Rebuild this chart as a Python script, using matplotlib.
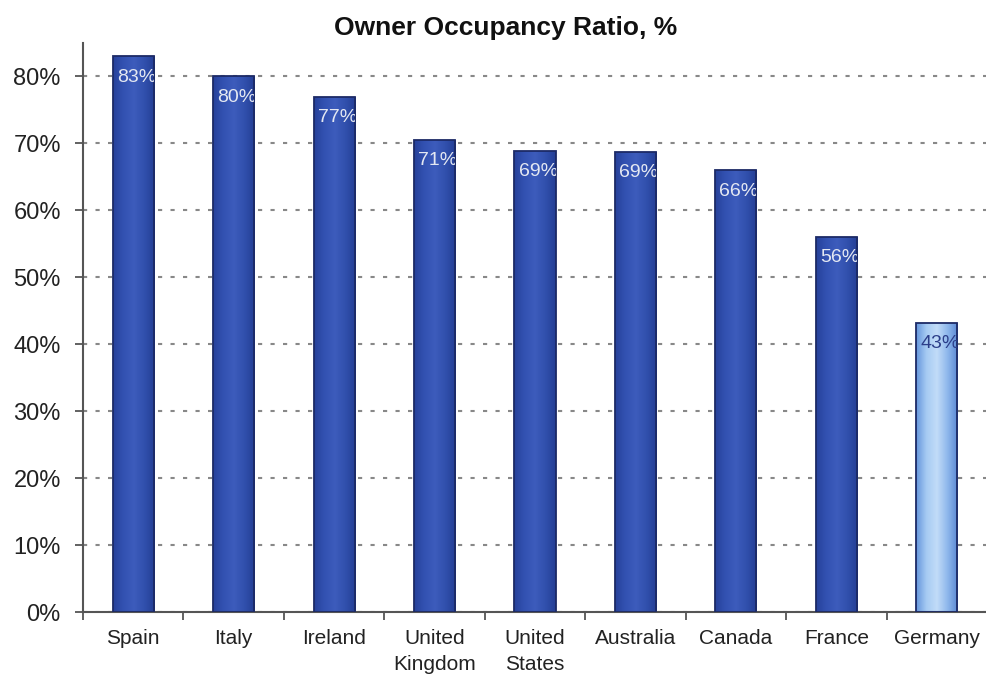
import numpy as np
import matplotlib
matplotlib.use("Agg")
import matplotlib.pyplot as plt
from matplotlib.colors import LinearSegmentedColormap

countries = ["Spain", "Italy", "Ireland", "United\nKingdom", "United\nStates",
             "Australia", "Canada", "France", "Germany"]
ratios = [83.0, 80.0, 77.0, 70.5, 68.9, 68.7, 66.0, 56.0, 43.2]
labels = ["83%", "80%", "77%", "71%", "69%", "69%", "66%", "56%", "43%"]
highlight = ["Germany"]

plt.rcParams["font.family"] = ["Liberation Sans", "DejaVu Sans"]

# gradient maps: darker edge -> lighter centre -> darker edge
dark_cmap = LinearSegmentedColormap.from_list(
    "dark", ["#26419a", "#3352b2", "#3d5cbc", "#3150ad", "#243e94"])
light_cmap = LinearSegmentedColormap.from_list(
    "light", ["#6495dc", "#a6cbf3", "#c2dcf8", "#8fb8ec", "#5a88d4"])

fig = plt.figure(figsize=(9.87, 6.78), dpi=100)
ax = fig.add_axes([0.0841, 0.0973, 0.9159, 0.8393])

x = np.arange(len(countries))
bars = ax.bar(x, ratios, width=0.41, color="none", edgecolor="#1c2a66",
              linewidth=1.3, zorder=3)

grad = np.linspace(0, 1, 256).reshape(1, -1)
for bar, name, lab in zip(bars, countries, labels):
    x0, w, h = bar.get_x(), bar.get_width(), bar.get_height()
    cmap = light_cmap if name in highlight else dark_cmap
    im = ax.imshow(grad, cmap=cmap, aspect="auto", extent=[x0, x0 + w, 0, h],
                   zorder=2)
    im.set_clip_path(bar)
    tcol = "#2c3f8a" if name in highlight else "#e4e8f2"
    t = ax.annotate(lab, xy=(x0, h), xytext=(3, -15), textcoords="offset points",
                    ha="left", va="center", fontsize=14, color=tcol, zorder=4)
    t.set_clip_path(bar)

ax.set_xlim(-0.5, len(countries) - 0.5)
ax.set_ylim(0, 85)
ax.set_yticks(np.arange(0, 81, 10))
ax.set_yticklabels([f"{v}%" for v in range(0, 81, 10)], fontsize=17, color="#222222")
ax.set_xticks(x)
ax.set_xticklabels(countries, fontsize=15, color="#222222", linespacing=1.5)
ax.set_xticks(np.arange(-0.5, len(countries), 1), minor=True)
ax.tick_params(axis="x", which="major", length=0, pad=12)
ax.tick_params(axis="x", which="minor", length=6, width=1.3, color="#555555",
               direction="out")
ax.tick_params(axis="y", length=6, width=1.3, color="#555555", pad=10)

ax.yaxis.grid(True, linestyle=(0, (2, 4)), color="#888888", linewidth=1.5)
ax.set_axisbelow(True)
for s in ["top", "right"]:
    ax.spines[s].set_visible(False)
for s in ["left", "bottom"]:
    ax.spines[s].set_color("#555555")
    ax.spines[s].set_linewidth(1.5)

fig.text(0.512, 0.958, "Owner Occupancy Ratio, %", ha="center", va="center",
         fontsize=19, fontweight="bold", color="#111111")

fig.savefig("out.png", dpi=100)
